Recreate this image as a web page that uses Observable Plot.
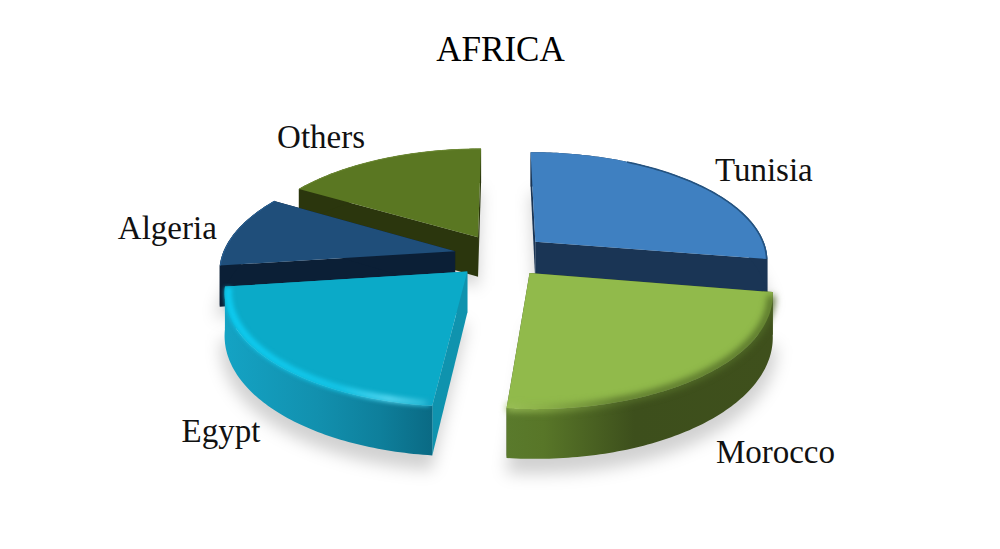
<!DOCTYPE html>
<html>
<head>
<meta charset="utf-8">
<script src="https://cdn.jsdelivr.net/npm/d3@7"></script>
<script src="https://cdn.jsdelivr.net/npm/@observablehq/plot@0.6"></script>
<style>html,body{margin:0;padding:0;background:#fff}svg{display:block}</style>
</head>
<body>
<div id="chart"></div>
<script>
// Data, clockwise from twelve o'clock
const countries = ["Tunisia", "Morocco", "Egypt", "Algeria", "Others"];
const shares = [27.6, 24, 21.3, 10.6, 16.5];
const chartTitle = "AFRICA";

// Look of the chart
const topColors = ["#3f80c1", "#91ba4b", "#0baac8", "#1f4e7a", "#5a7722"];
const cutColors = ["#1a3555", "#3d4f1c", "#0f93ae", "#0b1f36", "#2b360d"];
const rimFills = ["#1a3555", "url(#rimMorocco)", "url(#rimEgypt)", "#0b1f36", "#2b360d"];
const explode = 0.2, perspective = 0.16, depth = 0.375;
const labelSpots = [[1.13, -.79], [1.18, 1.82], [-1.2, 1.63], [-1.43, -.25], [-.77, -1.09]];

const total = d3.sum(shares);
let acc = 0;
const slices = countries.map((name, i) => {
  const a0 = acc / total * 2 * Math.PI; acc += shares[i];
  const a1 = acc / total * 2 * Math.PI, mid = (a0 + a1) / 2;
  return {name, i, a0, a1, cu: explode * Math.sin(mid), cv: -explode * Math.cos(mid)};
});

// Ground point of a slice -> perspective chart units
const pt = (s, t, r, z = 0) => {
  const u = s.cu + r * Math.sin(t), v = s.cv - r * Math.cos(t);
  const w = 1 / (1 - perspective * v);
  return {x: u * w, y: (v + z) * w};
};
const arc = (s, t0, t1, r, z = 0) => {
  const n = Math.max(2, Math.ceil(Math.abs(t1 - t0) * 60));
  return d3.range(n + 1).map(k => pt(s, t0 + (t1 - t0) * k / n, r, z));
};
const poly = (points, fill, extra = {}) =>
  Plot.line(points, {x: "x", y: "y", fill, stroke: "none", ...extra});
const curve = (points, stroke, strokeWidth, extra = {}) =>
  Plot.line(points, {x: "x", y: "y", stroke, strokeWidth, fill: "none", strokeLinecap: "butt", ...extra});

const wedge = (s, r = 1, z = 0) => [pt(s, 0, 0, z), ...arc(s, s.a0, s.a1, r, z)];
const footprint = s => [...wedge(s, 1.015, depth * 1.25)];
const cutWall = (s, t) => [pt(s, 0, 0), pt(s, t, 1), pt(s, t, 1, depth), pt(s, 0, 0, depth)];
const rimWall = s => [...arc(s, s.a0, s.a1, 1), ...arc(s, s.a1, s.a0, 1, depth)];

const order = [4, 3, 0, 1, 2];
const marks = [
  () => {
    const g = d3.create("svg:defs");
    g.html(`
      <linearGradient id="rimMorocco" x1="0" x2="1" y1="0" y2="0">
        <stop offset="0" stop-color="#5a7a2c"/><stop offset=".14" stop-color="#587628"/>
        <stop offset=".48" stop-color="#3d4f1c"/><stop offset="1" stop-color="#3f501c"/>
      </linearGradient>
      <linearGradient id="rimEgypt" x1="0" x2="1" y1="0" y2="0">
        <stop offset="0" stop-color="#14a3c4"/><stop offset=".45" stop-color="#1290ae"/>
        <stop offset=".75" stop-color="#0e7f9b"/><stop offset="1" stop-color="#0a6a84"/>
      </linearGradient>
      <linearGradient id="glowEgypt" x1="0" x2="1" y1="0" y2="0">
        <stop offset="0" stop-color="#0dcbf0"/><stop offset=".55" stop-color="#14c4e6"/>
        <stop offset=".8" stop-color="#50d4ee"/><stop offset=".96" stop-color="#2cbcd8"/>
        <stop offset="1" stop-color="#14a3c4"/>
      </linearGradient>
      <linearGradient id="edgeMorocco" x1="0" x2="1" y1="0" y2="0">
        <stop offset="0" stop-color="#9cc05a"/><stop offset=".12" stop-color="#8cb04a"/>
        <stop offset=".42" stop-color="#56702a"/><stop offset="1" stop-color="#506a26"/>
      </linearGradient>`);
    return g.node();
  }
];
// soft cast shadows
for (const i of order)
  marks.push(poly(footprint(slices[i]), "#000", {fillOpacity: 0.18, imageFilter: "blur(8px)"}));
// solid slices, back to front
for (const i of order) {
  const s = slices[i];
  marks.push(
    poly(cutWall(s, s.a0), cutColors[i]),
    poly(cutWall(s, s.a1), cutColors[i]),
    poly(rimWall(s), rimFills[i]),
    poly(wedge(s), topColors[i])
  );
  if (i === 1) marks.push(curve(arc(s, s.a0 + 0.03, s.a1, 0.995), "url(#edgeMorocco)", 7, {imageFilter: "blur(3.5px)"}));
  if (i === 2) marks.push(curve(arc(s, s.a0 + 0.01, s.a1 - 0.01, 0.985), "url(#glowEgypt)", 7, {imageFilter: "blur(2px)"}));
  if (i === 0) marks.push(curve(arc(s, s.a0 + 0.5, s.a1, 0.997), "#24527f", 1.6));
  if (i === 3) marks.push(curve(arc(s, s.a0, s.a1, 0.997), "#2a6296", 1));
  if (i === 4) marks.push(curve(arc(s, s.a0, s.a1, 0.998), "#6d8a33", 1));
}
marks.push(
  Plot.text(slices, {
    x: d => labelSpots[d.i][0], y: d => labelSpots[d.i][1], text: "name",
    fontSize: 33, fontFamily: "Liberation Serif", fill: "#111", textAnchor: "middle", lineAnchor: "middle"
  }),
  Plot.text([chartTitle], {
    frameAnchor: "top", dy: 36, text: d => d, fontSize: 35,
    fontFamily: "Liberation Serif", fill: "#000", lineAnchor: "top"
  })
);

const plot = Plot.plot({
  width: 1000, height: 549,
  marginTop: 0, marginRight: 0, marginBottom: 0, marginLeft: 0,
  x: {domain: [-1, 1], range: [267, 733], axis: null},
  y: {domain: [-1, 1], range: [147, 363], axis: null},
  style: {background: "#fff"},
  marks
});
document.getElementById("chart").append(plot);
</script>
</body>
</html>
